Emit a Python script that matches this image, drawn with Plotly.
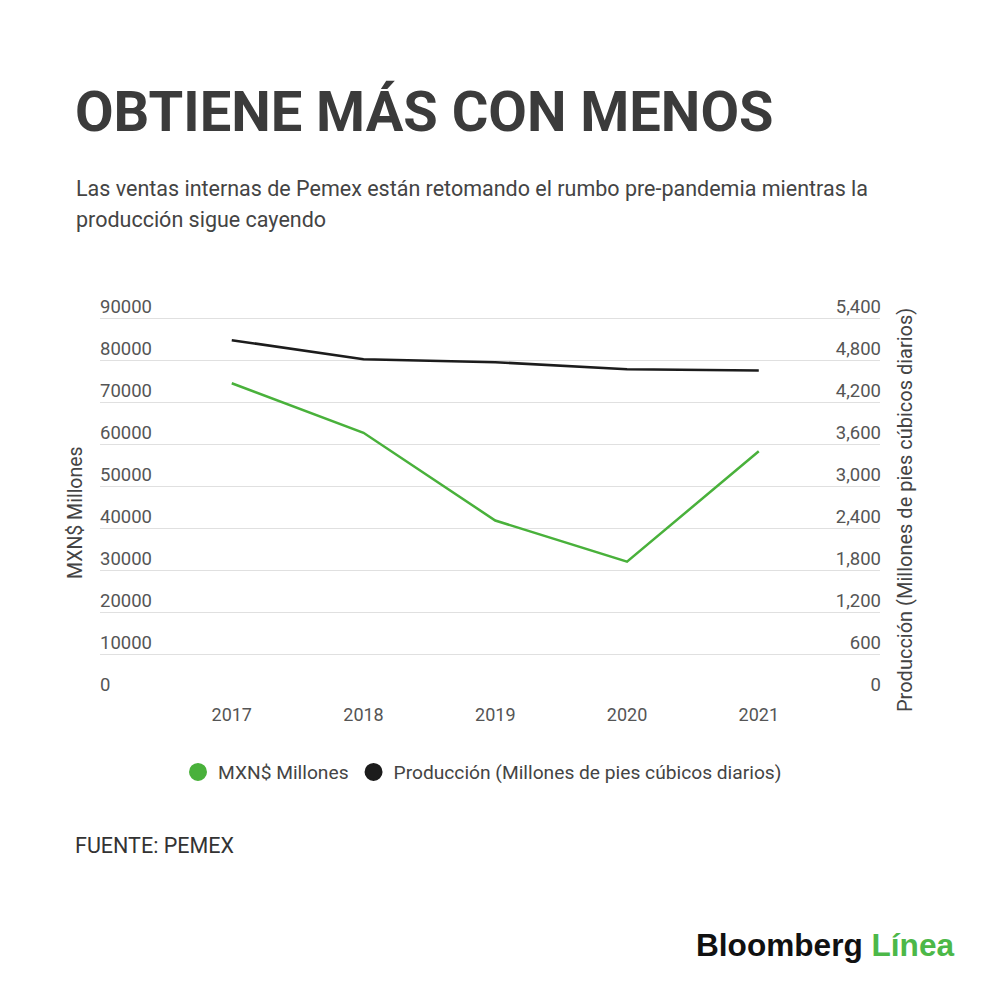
import plotly.graph_objects as go

years = ["2017", "2018", "2019", "2020", "2021"]
ventas = [74500, 62700, 41800, 32000, 58300]
produccion = [5086, 4814, 4771, 4671, 4653]

left_ticks = [0, 10000, 20000, 30000, 40000, 50000, 60000, 70000, 80000, 90000]
right_ticks = [0, 600, 1200, 1800, 2400, 3000, 3600, 4200, 4800, 5400]

GREEN = "#49b13b"
BLACK = "#1c1c1c"
FONT = "Roboto"

fig = go.Figure()
fig.add_trace(go.Scatter(x=years, y=ventas, mode="lines", line=dict(color=GREEN, width=2.5),
                         name="MXN$ Millones", showlegend=False, yaxis="y"))
fig.add_trace(go.Scatter(x=years, y=produccion, mode="lines", line=dict(color=BLACK, width=2.5),
                         name="Producción (Millones de pies cúbicos diarios)", showlegend=False, yaxis="y2"))
# legend entries (circle symbols)
fig.add_trace(go.Scatter(x=[None], y=[None], mode="markers",
                         marker=dict(color=GREEN, size=16, line=dict(color=GREEN, width=2)),
                         name="MXN$ Millones"))
fig.add_trace(go.Scatter(x=[None], y=[None], mode="markers",
                         marker=dict(color=BLACK, size=16, line=dict(color=BLACK, width=2)),
                         name="Producción (Millones de pies cúbicos diarios)"))

TICKFONT = dict(size=18.5, color="#555555")

fig.update_layout(
    width=992, height=979,
    margin=dict(l=92, r=120, t=285, b=291),
    paper_bgcolor="white", plot_bgcolor="white",
    font=dict(family=FONT, color="#555555"),
    xaxis=dict(type="category", range=[-1.0, 4.92], showgrid=False, zeroline=False,
               showline=False, ticks="", ticklabelstandoff=6, tickfont=dict(size=18, color="#555555")),
    yaxis=dict(range=[0, 96000], tickvals=left_ticks, tickformat="d",
               ticklabelposition="inside top", ticklabelstandoff=-3, ticklabelshift=1,
               showgrid=True, gridcolor="#e0e0e0", gridwidth=1,
               zeroline=False, showline=False, ticks="", tickfont=TICKFONT),
    yaxis2=dict(range=[0, 5760], tickvals=right_ticks, tickformat=",d", overlaying="y", side="right",
                ticklabelposition="inside top", ticklabelstandoff=-4, ticklabelshift=1,
                showgrid=False, zeroline=False, showline=False,
                ticks="", tickfont=TICKFONT),
    showlegend=True,
    legend=dict(orientation="h", x=0.1, xanchor="left", y=(696 - 772) / 403.0, yanchor="middle",
                font=dict(size=19.2, color="#444444"), itemsizing="trace",
                bgcolor="rgba(0,0,0,0)"),
)


def px_x(px):
    return (px - 100) / 780.0


def px_y(py):
    return (696 - py) / 403.0


annotations = [
    dict(text="<b>OBTIENE MÁS CON MENOS</b>", x=px_x(73), y=px_y(112), xanchor="left", yanchor="middle",
         font=dict(family=FONT, size=56, color="#3b3b3b")),
    dict(text="Las ventas internas de Pemex están retomando el rumbo pre-pandemia mientras la",
         x=px_x(74), y=px_y(188), xanchor="left", yanchor="middle",
         font=dict(family=FONT, size=21.5, color="#444444")),
    dict(text="producción sigue cayendo",
         x=px_x(74), y=px_y(219), xanchor="left", yanchor="middle",
         font=dict(family=FONT, size=21.5, color="#444444")),
    dict(text="MXN$ Millones", x=px_x(75), y=px_y(513), xanchor="center", yanchor="middle",
         textangle=-90, font=dict(family=FONT, size=19.5, color="#444444")),
    dict(text="Producción (Millones de pies cúbicos diarios)", x=px_x(905), y=px_y(510),
         xanchor="center", yanchor="middle", textangle=-90,
         font=dict(family=FONT, size=20, color="#444444")),
    dict(text="FUENTE: PEMEX", x=px_x(73), y=px_y(845), xanchor="left", yanchor="middle",
         font=dict(family=FONT, size=21.5, color="#333333")),
    dict(text="<b>Bloomberg</b> <b><span style='color:#4cb848'>Línea</span></b>",
         x=px_x(956), y=px_y(945), xanchor="right", yanchor="middle",
         font=dict(family="Liberation Sans", size=31.6, color="#111111")),
]
for a in annotations:
    a.update(xref="paper", yref="paper", showarrow=False)
fig.update_layout(annotations=annotations)

fig.write_html("out.html")
